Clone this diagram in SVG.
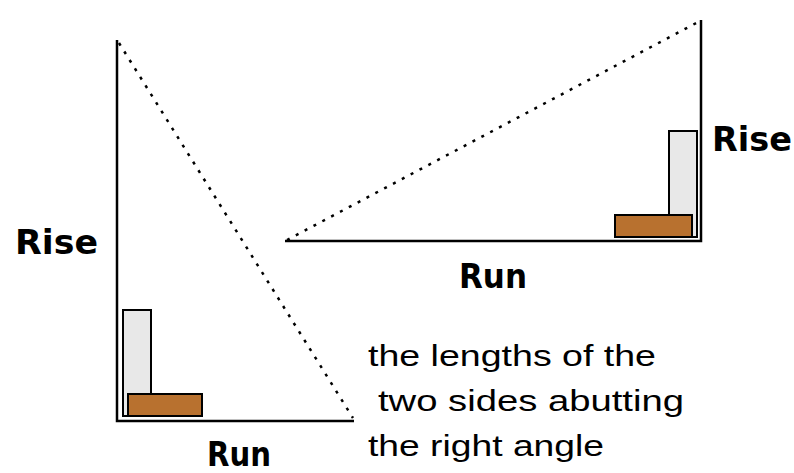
<svg xmlns="http://www.w3.org/2000/svg" width="794" height="473" viewBox="0 0 794 473">
<style>
.side{stroke:#000;stroke-width:2.5;fill:none}
.hyp{stroke:#000;stroke-width:2.5;fill:none;stroke-dasharray:3 7}
.grey{fill:#e8e8e8;stroke:#000;stroke-width:2}
.brown{fill:#b8712f;stroke:#000;stroke-width:2}
.lbl{font-family:"DejaVu Sans",sans-serif;font-weight:bold;font-size:33px;fill:#000}
.note{font-family:"Liberation Sans",Arial,sans-serif;font-size:30px;fill:#000}
</style>
<rect width="794" height="473" fill="#fff"/>
<g id="left-triangle">
<rect class="grey" x="123" y="310" width="28" height="106"/>
<rect class="brown" x="128" y="394" width="74" height="22"/>
<path class="side" d="M117,40 V421 H354"/>
</g>
<g id="right-triangle">
<rect class="grey" x="669" y="131" width="28" height="106"/>
<rect class="brown" x="615" y="215" width="77" height="22"/>
<path class="side" d="M701,20 V241 H285"/>
</g>
<g id="connectors">
<line class="hyp" x1="119" y1="43" x2="353" y2="418"/>
<line class="hyp" x1="287" y1="240" x2="700" y2="21"/>
</g>
<g id="labels">
<text class="lbl" x="15" y="254" textLength="83" lengthAdjust="spacingAndGlyphs">Rise</text>
<text class="lbl" x="712" y="151" textLength="80" lengthAdjust="spacingAndGlyphs">Rise</text>
<text class="lbl" x="459" y="288" textLength="68" lengthAdjust="spacingAndGlyphs">Run</text>
<text class="lbl" x="207" y="466" font-size="30" textLength="64" lengthAdjust="spacingAndGlyphs">Run</text>
</g>
<g id="note">
<text class="note" x="368" y="366" textLength="288" lengthAdjust="spacingAndGlyphs">the lengths of the</text>
<text class="note" x="378" y="411" textLength="306" lengthAdjust="spacingAndGlyphs">two sides abutting</text>
<text class="note" x="368" y="456" textLength="236" lengthAdjust="spacingAndGlyphs">the right angle</text>
</g>
</svg>
